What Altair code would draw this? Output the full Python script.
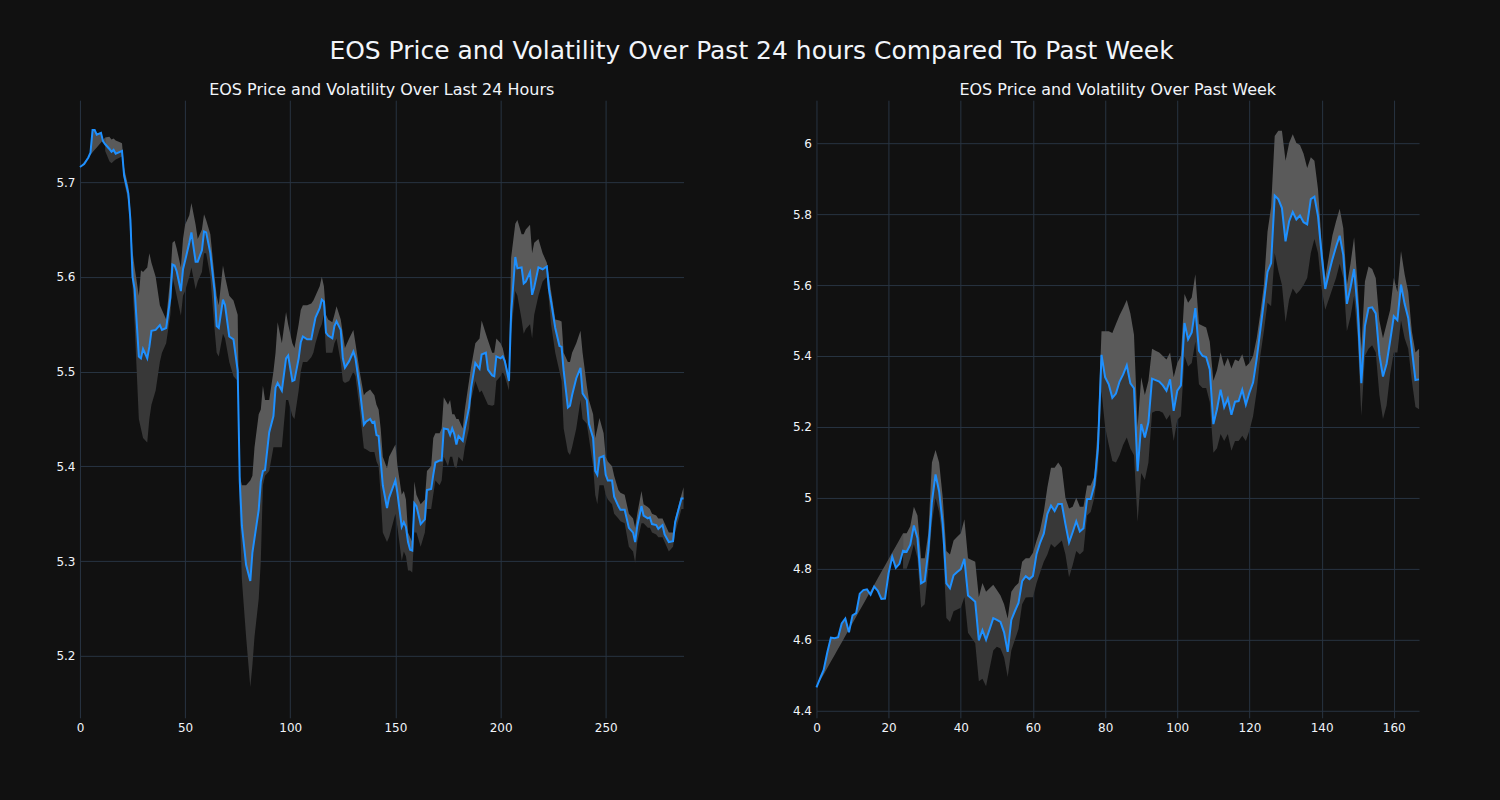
import altair as alt
import pandas as pd

# ---------------- Left panel: last 24 hours (5-minute steps) ----------------
day_x = [0, 2, 4, 5, 6, 7, 8, 10, 11, 12, 14, 15, 16, 17, 19, 20, 21, 23, 24, 25, 26, 28, 29, 30, 32, 33, 34, 36, 38, 39, 41, 43, 44, 45, 46, 48, 49, 50, 52, 53, 55, 56, 58, 59, 60, 62, 64, 65, 66, 68, 69, 71, 73, 75, 76, 77, 79, 81, 82, 83, 85, 86, 87, 88, 90, 92, 93, 94, 96, 98, 99, 101, 102, 104, 105, 106, 108, 110, 111, 112, 114, 115, 116, 117, 118, 120, 121, 122, 124, 125, 126, 128, 130, 131, 133, 135, 136, 138, 139, 140, 141, 142, 143, 144, 146, 147, 150, 151, 153, 154, 155, 156, 157, 158, 159, 160, 162, 164, 165, 167, 168, 169, 171, 172, 173, 175, 176, 177, 178, 179, 180, 182, 183, 185, 186, 188, 190, 191, 193, 194, 196, 197, 198, 200, 201, 202, 204, 205, 207, 208, 210, 211, 212, 214, 215, 216, 218, 220, 222, 223, 224, 226, 228, 229, 230, 232, 233, 234, 236, 238, 239, 241, 242, 244, 245, 246, 247, 249, 250, 251, 253, 254, 256, 257, 259, 261, 263, 264, 265, 267, 268, 270, 271, 272, 274, 275, 277, 278, 280, 282, 283, 286, 287]
day_price = [5.716, 5.719, 5.726, 5.731, 5.755, 5.755, 5.750, 5.752, 5.743, 5.740, 5.735, 5.732, 5.734, 5.730, 5.732, 5.733, 5.707, 5.688, 5.660, 5.600, 5.587, 5.516, 5.514, 5.524, 5.514, 5.526, 5.543, 5.544, 5.549, 5.544, 5.546, 5.578, 5.613, 5.612, 5.606, 5.585, 5.608, 5.617, 5.636, 5.647, 5.616, 5.616, 5.628, 5.648, 5.647, 5.625, 5.585, 5.548, 5.546, 5.576, 5.570, 5.537, 5.534, 5.501, 5.384, 5.337, 5.296, 5.279, 5.309, 5.324, 5.354, 5.384, 5.395, 5.396, 5.436, 5.453, 5.483, 5.488, 5.480, 5.514, 5.517, 5.490, 5.491, 5.514, 5.531, 5.537, 5.534, 5.534, 5.546, 5.557, 5.567, 5.576, 5.574, 5.541, 5.538, 5.535, 5.548, 5.553, 5.544, 5.514, 5.504, 5.511, 5.521, 5.514, 5.483, 5.444, 5.447, 5.450, 5.446, 5.447, 5.433, 5.432, 5.406, 5.380, 5.356, 5.367, 5.385, 5.371, 5.336, 5.341, 5.336, 5.320, 5.312, 5.311, 5.361, 5.358, 5.339, 5.344, 5.375, 5.376, 5.391, 5.404, 5.406, 5.406, 5.440, 5.439, 5.433, 5.440, 5.434, 5.423, 5.432, 5.427, 5.440, 5.462, 5.483, 5.509, 5.503, 5.518, 5.520, 5.502, 5.496, 5.495, 5.516, 5.514, 5.516, 5.511, 5.490, 5.561, 5.621, 5.609, 5.610, 5.593, 5.595, 5.605, 5.581, 5.589, 5.610, 5.608, 5.611, 5.587, 5.574, 5.546, 5.527, 5.526, 5.501, 5.462, 5.464, 5.475, 5.493, 5.504, 5.477, 5.470, 5.445, 5.430, 5.395, 5.391, 5.409, 5.411, 5.391, 5.385, 5.385, 5.368, 5.358, 5.354, 5.354, 5.335, 5.330, 5.320, 5.337, 5.358, 5.348, 5.345, 5.346, 5.339, 5.338, 5.334, 5.338, 5.328, 5.320, 5.321, 5.341, 5.366, 5.366]
day_upper = [None, None, None, None, None, None, None, None, None, 5.747, 5.748, 5.745, 5.746, 5.744, 5.742, 5.741, 5.715, 5.695, 5.670, 5.627, 5.610, 5.580, 5.607, 5.605, 5.610, 5.625, 5.615, 5.600, 5.570, 5.565, 5.555, 5.600, 5.636, 5.638, 5.630, 5.610, 5.640, 5.655, 5.665, 5.678, 5.655, 5.640, 5.650, 5.666, 5.660, 5.645, 5.600, 5.580, 5.570, 5.612, 5.600, 5.580, 5.575, 5.560, 5.390, 5.380, 5.380, 5.385, 5.390, 5.420, 5.455, 5.460, 5.485, 5.470, 5.470, 5.500, 5.520, 5.552, 5.530, 5.563, 5.550, 5.530, 5.525, 5.550, 5.565, 5.570, 5.570, 5.572, 5.575, 5.580, 5.590, 5.600, 5.590, 5.560, 5.555, 5.552, 5.560, 5.569, 5.555, 5.540, 5.525, 5.535, 5.544, 5.530, 5.500, 5.475, 5.478, 5.481, 5.478, 5.475, 5.465, 5.460, 5.440, 5.410, 5.398, 5.410, 5.423, 5.400, 5.370, 5.374, 5.365, 5.330, 5.325, 5.320, 5.384, 5.370, 5.360, 5.365, 5.395, 5.400, 5.430, 5.435, 5.435, 5.440, 5.473, 5.465, 5.470, 5.455, 5.455, 5.450, 5.450, 5.440, 5.460, 5.490, 5.505, 5.530, 5.535, 5.554, 5.540, 5.533, 5.520, 5.520, 5.535, 5.530, 5.525, 5.515, 5.495, 5.620, 5.656, 5.660, 5.645, 5.645, 5.650, 5.655, 5.625, 5.636, 5.640, 5.625, 5.615, 5.600, 5.585, 5.555, 5.554, 5.553, 5.520, 5.510, 5.510, 5.520, 5.530, 5.543, 5.520, 5.485, 5.470, 5.455, 5.430, 5.440, 5.451, 5.435, 5.410, 5.405, 5.400, 5.390, 5.375, 5.372, 5.370, 5.350, 5.345, 5.335, 5.350, 5.374, 5.360, 5.357, 5.355, 5.350, 5.348, 5.345, 5.345, 5.340, 5.330, 5.330, 5.345, 5.370, 5.378]
day_lower = [None, None, None, None, None, None, None, None, None, 5.733, 5.722, 5.720, 5.722, 5.724, 5.726, 5.727, 5.700, 5.680, 5.640, 5.590, 5.550, 5.450, 5.440, 5.430, 5.425, 5.450, 5.465, 5.480, 5.510, 5.520, 5.530, 5.560, 5.600, 5.590, 5.580, 5.559, 5.580, 5.585, 5.600, 5.610, 5.587, 5.595, 5.605, 5.625, 5.625, 5.600, 5.545, 5.520, 5.516, 5.540, 5.535, 5.510, 5.495, 5.490, 5.350, 5.280, 5.220, 5.167, 5.190, 5.220, 5.260, 5.300, 5.380, 5.390, 5.395, 5.420, 5.420, 5.420, 5.420, 5.470, 5.470, 5.453, 5.450, 5.480, 5.500, 5.510, 5.510, 5.515, 5.520, 5.530, 5.545, 5.550, 5.560, 5.520, 5.520, 5.520, 5.530, 5.535, 5.510, 5.490, 5.488, 5.490, 5.500, 5.495, 5.460, 5.419, 5.418, 5.415, 5.415, 5.415, 5.405, 5.400, 5.370, 5.330, 5.320, 5.325, 5.350, 5.335, 5.300, 5.310, 5.305, 5.290, 5.290, 5.288, 5.330, 5.330, 5.315, 5.330, 5.355, 5.355, 5.370, 5.385, 5.380, 5.385, 5.410, 5.400, 5.410, 5.410, 5.400, 5.398, 5.410, 5.405, 5.420, 5.440, 5.470, 5.490, 5.478, 5.480, 5.470, 5.465, 5.464, 5.465, 5.490, 5.495, 5.500, 5.495, 5.480, 5.540, 5.585, 5.580, 5.555, 5.540, 5.545, 5.550, 5.535, 5.560, 5.580, 5.595, 5.600, 5.575, 5.550, 5.520, 5.500, 5.490, 5.440, 5.415, 5.412, 5.420, 5.440, 5.470, 5.450, 5.445, 5.430, 5.400, 5.370, 5.360, 5.380, 5.380, 5.370, 5.365, 5.360, 5.350, 5.345, 5.342, 5.340, 5.315, 5.310, 5.298, 5.320, 5.340, 5.340, 5.335, 5.335, 5.330, 5.328, 5.325, 5.325, 5.320, 5.310, 5.315, 5.330, 5.355, 5.355]

# ---------------- Right panel: past week (hourly steps) ----------------
week_x = list(range(168))
week_price = [4.466, 4.491, 4.515, 4.564, 4.606, 4.604, 4.607, 4.646, 4.660, 4.621, 4.669, 4.675, 4.730, 4.740, 4.742, 4.727, 4.750, 4.738, 4.715, 4.716, 4.788, 4.834, 4.803, 4.814, 4.851, 4.848, 4.868, 4.922, 4.886, 4.759, 4.765, 4.851, 4.989, 5.066, 5.018, 4.926, 4.759, 4.745, 4.782, 4.791, 4.799, 4.828, 4.725, 4.716, 4.707, 4.598, 4.627, 4.600, 4.630, 4.661, 4.656, 4.650, 4.621, 4.566, 4.656, 4.681, 4.704, 4.765, 4.779, 4.771, 4.780, 4.842, 4.874, 4.899, 4.955, 4.978, 4.963, 4.983, 4.983, 4.926, 4.874, 4.903, 4.934, 4.905, 4.914, 4.997, 4.997, 5.035, 5.139, 5.403, 5.340, 5.320, 5.282, 5.294, 5.328, 5.348, 5.374, 5.323, 5.309, 5.075, 5.208, 5.170, 5.213, 5.336, 5.332, 5.328, 5.317, 5.302, 5.334, 5.245, 5.302, 5.317, 5.493, 5.447, 5.466, 5.535, 5.415, 5.400, 5.397, 5.362, 5.208, 5.250, 5.305, 5.256, 5.280, 5.234, 5.271, 5.273, 5.305, 5.263, 5.297, 5.325, 5.392, 5.472, 5.553, 5.637, 5.662, 5.852, 5.842, 5.817, 5.723, 5.780, 5.806, 5.785, 5.796, 5.777, 5.771, 5.842, 5.849, 5.794, 5.685, 5.589, 5.633, 5.673, 5.708, 5.739, 5.685, 5.547, 5.593, 5.645, 5.530, 5.323, 5.484, 5.535, 5.537, 5.520, 5.403, 5.342, 5.378, 5.443, 5.512, 5.501, 5.601, 5.547, 5.507, 5.420, 5.332, 5.334]
week_upper = [None] * 24 + [4.900, 4.900, 4.920, 4.975, 4.950, 4.830, 4.830, 4.900, 5.100, 5.135, 5.100, 5.000, 4.850, 4.840, 4.880, 4.890, 4.900, 4.940, 4.830, 4.825, 4.820, 4.720, 4.760, 4.735, 4.745, 4.755, 4.740, 4.725, 4.700, 4.660, 4.735, 4.750, 4.760, 4.820, 4.830, 4.830, 4.845, 4.880, 4.910, 4.960, 5.030, 5.085, 5.085, 5.100, 5.085, 5.000, 4.970, 4.975, 5.000, 4.975, 4.975, 5.035, 5.035, 5.060, 5.200, 5.470, 5.470, 5.470, 5.465, 5.490, 5.515, 5.535, 5.558, 5.520, 5.460, 5.200, 5.340, 5.290, 5.330, 5.420, 5.415, 5.410, 5.400, 5.390, 5.410, 5.340, 5.380, 5.400, 5.575, 5.550, 5.565, 5.630, 5.490, 5.485, 5.480, 5.440, 5.330, 5.360, 5.410, 5.370, 5.395, 5.365, 5.390, 5.385, 5.405, 5.370, 5.380, 5.400, 5.450, 5.520, 5.600, 5.750, 5.820, 6.020, 6.035, 6.035, 5.950, 6.000, 6.025, 6.000, 5.995, 5.970, 5.930, 5.960, 5.950, 5.870, 5.720, 5.620, 5.680, 5.740, 5.780, 5.815, 5.760, 5.600, 5.660, 5.735, 5.600, 5.420, 5.610, 5.652, 5.645, 5.620, 5.500, 5.450, 5.490, 5.530, 5.620, 5.580, 5.696, 5.630, 5.580, 5.470, 5.410, 5.420]
week_lower = [None] * 24 + [4.800, 4.800, 4.830, 4.870, 4.830, 4.690, 4.700, 4.800, 4.930, 5.000, 4.960, 4.880, 4.661, 4.650, 4.680, 4.685, 4.690, 4.720, 4.620, 4.605, 4.590, 4.483, 4.490, 4.469, 4.520, 4.570, 4.580, 4.575, 4.550, 4.495, 4.570, 4.600, 4.630, 4.700, 4.719, 4.720, 4.720, 4.760, 4.790, 4.820, 4.840, 4.870, 4.860, 4.870, 4.880, 4.840, 4.776, 4.810, 4.850, 4.840, 4.850, 4.950, 4.960, 5.000, 5.080, 5.300, 5.200, 5.150, 5.104, 5.100, 5.120, 5.150, 5.170, 5.139, 5.120, 4.932, 5.070, 5.050, 5.100, 5.240, 5.245, 5.245, 5.240, 5.220, 5.235, 5.160, 5.220, 5.230, 5.400, 5.370, 5.380, 5.440, 5.320, 5.310, 5.310, 5.270, 5.127, 5.140, 5.180, 5.160, 5.180, 5.133, 5.160, 5.160, 5.175, 5.160, 5.190, 5.230, 5.300, 5.400, 5.470, 5.550, 5.540, 5.690, 5.640, 5.600, 5.495, 5.560, 5.590, 5.575, 5.585, 5.600, 5.620, 5.690, 5.730, 5.690, 5.590, 5.530, 5.560, 5.590, 5.620, 5.660, 5.620, 5.470, 5.510, 5.570, 5.450, 5.231, 5.400, 5.420, 5.430, 5.410, 5.290, 5.222, 5.260, 5.350, 5.410, 5.410, 5.500, 5.450, 5.420, 5.330, 5.256, 5.250]

main_title = "EOS Price and Volatility Over Past 24 hours Compared To Past Week"
left_title = "EOS Price and Volatility Over Last 24 Hours"
right_title = "EOS Price and Volatility Over Past Week"

BG = "#111111"
GRID = "#283442"
TXT = "#f2f5fa"
LINE = "#1e90ff"
FILL_UP = "#5a5a5a"
FILL_DN = "#383838"
FONT = "DejaVu Sans"


def panel(xs, price, upper, lower, title, xdom, ydom, xticks, yticks, w, h):
    df = pd.DataFrame({"x": xs, "price": price, "upper": upper, "lower": lower})
    first = next(i for i, u in enumerate(upper) if u is not None)
    p0, u0, x0 = price[0], upper[first], xs[first]
    xenc = alt.X("x:Q", scale=alt.Scale(domain=xdom, nice=False, zero=False),
                 axis=alt.Axis(values=xticks, format="d", title=None, labelFlush=False))
    yscale = alt.Scale(domain=ydom, nice=False, zero=False)
    yaxis = alt.Axis(values=yticks, format="~r", title=None, minExtent=30, maxExtent=30,
                     labelFlush=False)
    base = alt.Chart(df)
    tri = base.transform_filter(f"datum.x <= {x0}").transform_calculate(
        edge=f"{p0} + ({u0} - {p0}) * datum.x / {x0}"
    ).mark_area(color=FILL_UP, opacity=0.85).encode(
        x=xenc, y=alt.Y("price:Q", scale=yscale, axis=yaxis), y2="edge:Q")
    up = base.transform_filter("isValid(datum.upper)").mark_area(color=FILL_UP).encode(
        x=xenc, y=alt.Y("price:Q", scale=yscale, axis=yaxis), y2="upper:Q")
    dn = base.transform_filter("isValid(datum.lower)").mark_area(color=FILL_DN).encode(
        x=xenc, y=alt.Y("lower:Q", scale=yscale, axis=yaxis), y2="price:Q")
    ln = base.mark_line(color=LINE, strokeWidth=2).encode(
        x=xenc, y=alt.Y("price:Q", scale=yscale, axis=yaxis))
    return alt.layer(tri, up, dn, ln).properties(
        width=w, height=h,
        title=alt.TitleParams(text=title, fontSize=16, font=FONT, color=TXT,
                              fontWeight="normal", offset=2))


left = panel(day_x, day_price, day_upper, day_lower, left_title,
             [0, 287], [5.1345, 5.7865], [0, 50, 100, 150, 200, 250],
             [5.2, 5.3, 5.4, 5.5, 5.6, 5.7], 604, 618)
right = panel(week_x, week_price, week_upper, week_lower, right_title,
              [0, 167], [4.380, 6.121], [0, 20, 40, 60, 80, 100, 120, 140, 160],
              [4.4, 4.6, 4.8, 5.0, 5.2, 5.4, 5.6, 5.8, 6.0], 603, 618)

chart = alt.hconcat(left, right, spacing=99).properties(
    title=alt.TitleParams(text=main_title, fontSize=25, font=FONT, color=TXT,
                          fontWeight="normal", anchor="middle", offset=18, dx=15),
    padding={"left": 50, "top": 39, "right": 77, "bottom": 66},
    background=BG,
).configure_view(stroke=None).configure_axis(
    gridColor=GRID, gridWidth=1, domain=False, ticks=False,
    labelColor=TXT, labelFont=FONT, labelFontSize=12, labelPadding=5,
).configure_axisY(labelPadding=5)

chart.save("out.html", embed_options={"renderer": "svg", "actions": False})
